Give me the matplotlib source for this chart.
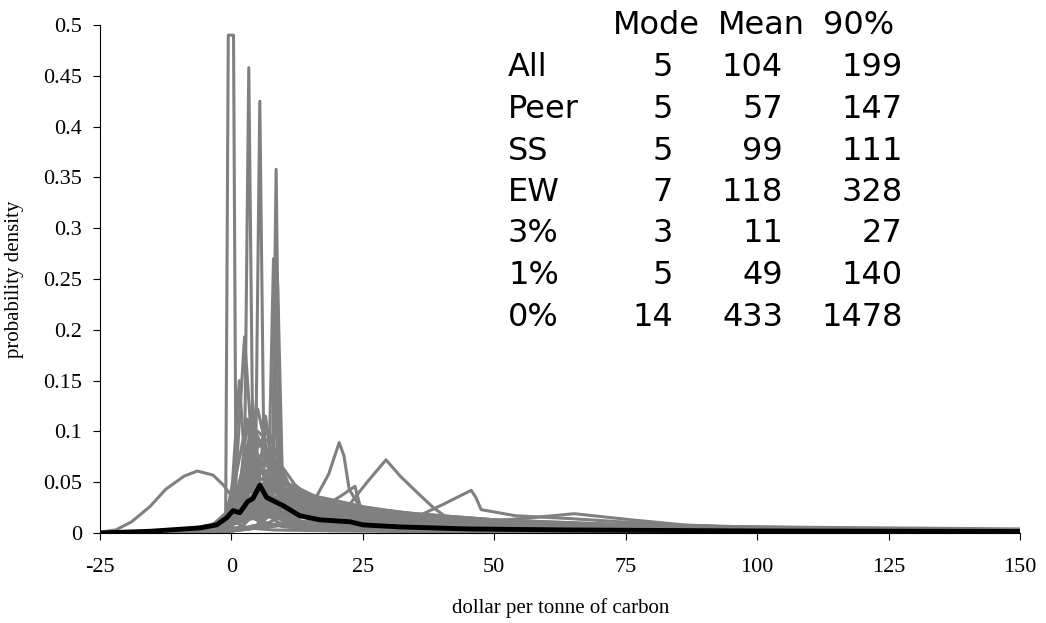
# Probability densities of the marginal damage cost of carbon, with summary table
import matplotlib.pyplot as plt

plt.rcParams['axes.unicode_minus'] = False

# Summary table
row_names = ['All', 'Peer', 'SS', 'EW', '3%', '1%', '0%']
col_names = ['Mode', 'Mean', '90%']
mode_vals = [5, 5, 5, 7, 3, 5, 14]
mean_vals = [104, 57, 99, 118, 11, 49, 433]
p90_vals = [199, 147, 111, 328, 27, 140, 1478]

# Narrow spiky densities (x, y)
spike_curves = [
    ([-25, -10, -3, -1.1, -0.6, 0.4, 0.9, 3, 8, 20, 50, 100, 150],
     [0, 0.001, 0.004, 0.01, 0.49, 0.49, 0.01, 0.005, 0.003, 0.002, 0.001, 0.0005, 0.0003]),
    ([-25, -5, 0, 2.4, 3.3, 4.2, 6, 12, 30, 80, 150],
     [0, 0.002, 0.006, 0.02, 0.458, 0.02, 0.01, 0.005, 0.002, 0.001, 0.0005]),
    ([-25, -5, 2, 4.5, 5.4, 6.3, 9, 15, 40, 100, 150],
     [0, 0.001, 0.006, 0.02, 0.425, 0.02, 0.01, 0.005, 0.002, 0.001, 0.0005]),
    ([-25, 0, 5, 7.7, 8.5, 9.3, 12, 20, 50, 150],
     [0, 0.002, 0.006, 0.02, 0.358, 0.02, 0.01, 0.005, 0.002, 0.0005]),
    ([-25, 0, 5, 7.0, 8.0, 9.0, 12, 25, 60, 150],
     [0, 0.002, 0.008, 0.03, 0.27, 0.03, 0.012, 0.005, 0.002, 0.0005]),
    ([-25, 0, 5, 7.9, 8.8, 9.8, 13, 25, 60, 150],
     [0, 0.002, 0.008, 0.03, 0.246, 0.03, 0.012, 0.005, 0.002, 0.0005]),
    ([-25, -5, -1, 0.8, 2.5, 4.2, 7, 12, 30, 150],
     [0, 0.002, 0.01, 0.05, 0.193, 0.06, 0.02, 0.008, 0.003, 0.0005]),
    ([-25, -5, -1, 0.2, 1.5, 2.8, 6, 12, 30, 150],
     [0, 0.002, 0.012, 0.05, 0.15, 0.05, 0.02, 0.008, 0.003, 0.0005]),
    ([-25, -5, 1, 2.6, 4.0, 5.4, 8, 14, 30, 150],
     [0, 0.002, 0.012, 0.05, 0.13, 0.05, 0.02, 0.008, 0.003, 0.0005]),
    ([-25, -5, 0, 1.5, 3.0, 4.5, 8, 14, 30, 150],
     [0, 0.002, 0.01, 0.04, 0.11, 0.045, 0.02, 0.008, 0.003, 0.0005]),
    ([-25, -5, 3, 5.0, 6.5, 8.0, 11, 16, 30, 150],
     [0, 0.002, 0.012, 0.04, 0.115, 0.05, 0.025, 0.01, 0.004, 0.0008]),
]

# Broader humps near the mode, on a shared grid
hump_x = [-25, -10, -4, -1, 1, 3, 5, 7, 9, 12, 16, 22, 30, 45, 70, 100, 150]
hump_ys = [
    [0, .001, .004, .012, .035, .085, .122, .075, .04, .022, .013, .008, .005, .003, .002, .001, .0005],
    [0, .001, .006, .02, .06, .112, .075, .04, .022, .013, .008, .005, .003, .002, .001, .0005, .0003],
    [0, .001, .003, .008, .02, .045, .085, .102, .07, .035, .02, .012, .008, .005, .003, .002, .001],
    [0, .0005, .002, .006, .018, .055, .095, .07, .04, .02, .012, .007, .004, .003, .002, .001, .0005],
    [0, .001, .004, .01, .03, .065, .088, .078, .05, .03, .018, .01, .006, .004, .002, .001, .0005],
    [0, .001, .003, .008, .022, .05, .075, .08, .06, .035, .02, .012, .007, .004, .002, .001, .0005],
    [0, .001, .004, .012, .03, .058, .072, .065, .05, .032, .02, .012, .008, .005, .003, .002, .001],
    [0, .001, .003, .009, .022, .045, .065, .07, .058, .04, .025, .015, .01, .006, .004, .002, .001],
    [0, .002, .006, .015, .035, .06, .066, .055, .04, .027, .018, .012, .008, .005, .003, .002, .001],
    [0, .001, .003, .007, .018, .038, .058, .062, .055, .042, .03, .02, .012, .007, .004, .002, .001],
    [0, .001, .004, .01, .025, .045, .055, .05, .042, .032, .022, .015, .01, .006, .004, .002, .001],
    [0, .001, .002, .006, .014, .03, .045, .052, .05, .043, .033, .022, .014, .008, .005, .003, .002],
    [0, .001, .003, .008, .02, .04, .048, .044, .038, .03, .024, .018, .013, .009, .006, .004, .003],
    [0, .001, .002, .005, .012, .025, .038, .042, .04, .036, .03, .024, .017, .011, .007, .004, .003],
    [0, .001, .003, .01, .028, .07, .1, .09, .06, .038, .024, .014, .009, .005, .003, .002, .001],
    [0, .001, .005, .015, .04, .08, .068, .05, .036, .025, .017, .011, .007, .004, .002, .001, .0005],
    [0, .001, .002, .006, .015, .035, .06, .078, .07, .048, .03, .018, .011, .006, .004, .002, .001],
    [0, .001, .003, .009, .024, .048, .06, .058, .048, .037, .027, .018, .012, .007, .004, .002, .001],
    [0, .001, .002, .005, .013, .028, .042, .05, .052, .046, .036, .025, .016, .009, .005, .003, .002],
]

# Flat, long-tailed densities, on a shared grid
tail_x = [-25, -15, -8, -4, -1, 2, 5, 8, 12, 18, 25, 35, 50, 75, 100, 125, 150]
tail_ys = [
    [0, .001, .003, .006, .012, .022, .03, .032, .03, .026, .021, .016, .011, .007, .005, .004, .003],
    [0, .001, .002, .005, .01, .018, .025, .028, .027, .024, .02, .015, .012, .008, .006, .004, .003],
    [0, .002, .004, .008, .014, .025, .035, .033, .028, .022, .017, .012, .008, .005, .004, .003, .002],
    [0, .001, .002, .004, .008, .015, .022, .026, .028, .026, .024, .019, .013, .008, .005, .004, .003],
    [0, .001, .003, .007, .015, .03, .04, .036, .03, .024, .018, .013, .009, .006, .004, .003, .002],
    [0, .001, .002, .004, .009, .02, .03, .034, .033, .03, .025, .018, .011, .006, .004, .003, .002],
    [0, .001, .002, .005, .011, .02, .028, .03, .028, .023, .017, .011, .007, .004, .003, .002, .002],
    [0, .001, .003, .006, .012, .025, .036, .042, .04, .034, .026, .018, .012, .007, .005, .004, .003],
    [0, .001, .002, .004, .008, .014, .018, .02, .02, .019, .017, .014, .011, .008, .006, .005, .004],
    [0, .001, .003, .006, .01, .017, .022, .024, .023, .02, .016, .012, .009, .006, .005, .004, .003],
    [0, .001, .002, .005, .009, .016, .02, .021, .02, .018, .015, .011, .008, .005, .004, .003, .002],
    [0, .001, .002, .004, .007, .012, .015, .016, .016, .015, .013, .011, .009, .007, .005, .004, .003],
    [0, .001, .003, .006, .013, .024, .032, .035, .034, .029, .023, .016, .01, .006, .004, .003, .002],
    [0, .001, .002, .005, .01, .019, .026, .03, .031, .029, .025, .019, .013, .008, .005, .004, .003],
    [0, .0005, .002, .004, .008, .013, .017, .018, .018, .017, .015, .012, .01, .007, .005, .004, .003],
    [0, .001, .002, .005, .011, .021, .027, .027, .024, .02, .015, .01, .007, .004, .003, .002, .002],
]

# Individual densities with outlying modes
odd_curves = [
    ([-25, -22, -19, -15.5, -12.5, -9, -6.5, -3.5, -1.5, 0.5, 2.5, 5, 10, 20, 40, 80, 150],
     [0.001, 0.003, 0.011, 0.026, 0.043, 0.056, 0.061, 0.057, 0.047, 0.033, 0.02, 0.012, 0.006, 0.003, 0.0015, 0.0008, 0.0003]),
    ([-25, -5, 5, 13, 16.3, 18.5, 20.5, 21.4, 22.4, 24.5, 30, 40, 60, 100, 150],
     [0, 0.001, 0.005, 0.025, 0.037, 0.058, 0.089, 0.076, 0.043, 0.025, 0.016, 0.01, 0.005, 0.002, 0.001]),
    ([-25, 0, 10, 18, 22.6, 25.8, 29.4, 32.1, 35.3, 38.4, 41, 50, 75, 100, 150],
     [0, 0.002, 0.008, 0.015, 0.029, 0.05, 0.072, 0.056, 0.04, 0.025, 0.015, 0.01, 0.005, 0.003, 0.001]),
    ([-25, 0, 10, 15, 18.8, 21, 23.5, 24.5, 27, 35, 50, 100, 150],
     [0, 0.002, 0.01, 0.02, 0.03, 0.037, 0.046, 0.026, 0.022, 0.014, 0.008, 0.003, 0.001]),
    ([-25, 0, 10, 20, 30, 35.3, 40.2, 45.6, 46.5, 47.5, 54, 65, 83, 95, 125, 150],
     [0, 0.002, 0.008, 0.01, 0.012, 0.016, 0.028, 0.042, 0.035, 0.023, 0.017, 0.014, 0.008, 0.006, 0.003, 0.002]),
    ([-25, 0, 10, 25, 40, 50, 57, 65.2, 76, 86, 95, 125, 150],
     [0, 0.002, 0.008, 0.012, 0.011, 0.012, 0.015, 0.019, 0.013, 0.008, 0.006, 0.003, 0.002]),
]

# Combined density (black)
all_x = [-25, -15.5, -6, -2.8, -0.9, 0.3, 1.6, 3.1, 4.1, 5.4, 6.7, 9.8, 13, 16.8,
         22.6, 25, 32, 45, 64, 100, 150]
all_y = [0, 0.0017, 0.005, 0.008, 0.015, 0.022, 0.020, 0.031, 0.034, 0.047, 0.035,
         0.027, 0.017, 0.013, 0.011, 0.008, 0.006, 0.004, 0.003, 0.002, 0.0015]

W, H = 1046, 623
fig = plt.figure(figsize=(W / 100, H / 100), dpi=100)
ax = fig.add_axes([100 / W, 1 - 533 / H, 920 / W, 508 / H])

gray = '#808080'
for ys in tail_ys:
    ax.plot(tail_x, ys, color=gray, lw=2.2)
for ys in hump_ys:
    ax.plot(hump_x, ys, color=gray, lw=2.2)
for xs, ys in odd_curves + spike_curves:
    ax.plot(xs, ys, color=gray, lw=2.2)
ax.plot(all_x, all_y, color='black', lw=3.5, zorder=5)

ax.set_xlim(-25, 150)
ax.set_ylim(0, 0.5)
ax.set_xticks(range(-25, 151, 25))
ax.set_yticks([i * 0.05 for i in range(11)])
ax.set_yticklabels(['0', '0.05', '0.1', '0.15', '0.2', '0.25', '0.3', '0.35', '0.4', '0.45', '0.5'])
for s in ['top', 'right']:
    ax.spines[s].set_visible(False)
for s in ['left', 'bottom']:
    ax.spines[s].set_color('black')
    ax.spines[s].set_linewidth(0.8)

serif = 'Liberation Serif'
ax.tick_params(axis='both', direction='out', length=5, width=0.8, labelsize=16)
ax.tick_params(axis='x', pad=13)
ax.tick_params(axis='y', pad=8)
for lab in ax.get_xticklabels() + ax.get_yticklabels():
    lab.set_fontfamily(serif)

fig.text(15 / W, 1 - 279 / H, 'probability density', rotation=90, ha='center', va='center',
         fontsize=15, family=serif)
fig.text(561 / W, 1 - 608 / H, 'dollar per tonne of carbon', ha='center', va='center',
         fontsize=15, family=serif)

# Table text
tfont = dict(fontsize=23, family='DejaVu Sans', va='center')
row_y0, row_dy = 68, 41.5
for name, left in zip(col_names, [613, 718, 823]):
    fig.text(left / W, 1 - 25 / H, name, ha='left', **tfont)
for i, name in enumerate(row_names):
    y = 1 - (row_y0 + i * row_dy) / H
    fig.text(508 / W, y, name, ha='left', **tfont)
    fig.text(673 / W, y, str(mode_vals[i]), ha='right', **tfont)
    fig.text(783 / W, y, str(mean_vals[i]), ha='right', **tfont)
    fig.text(903 / W, y, str(p90_vals[i]), ha='right', **tfont)

fig.savefig('out.png', dpi=100)
